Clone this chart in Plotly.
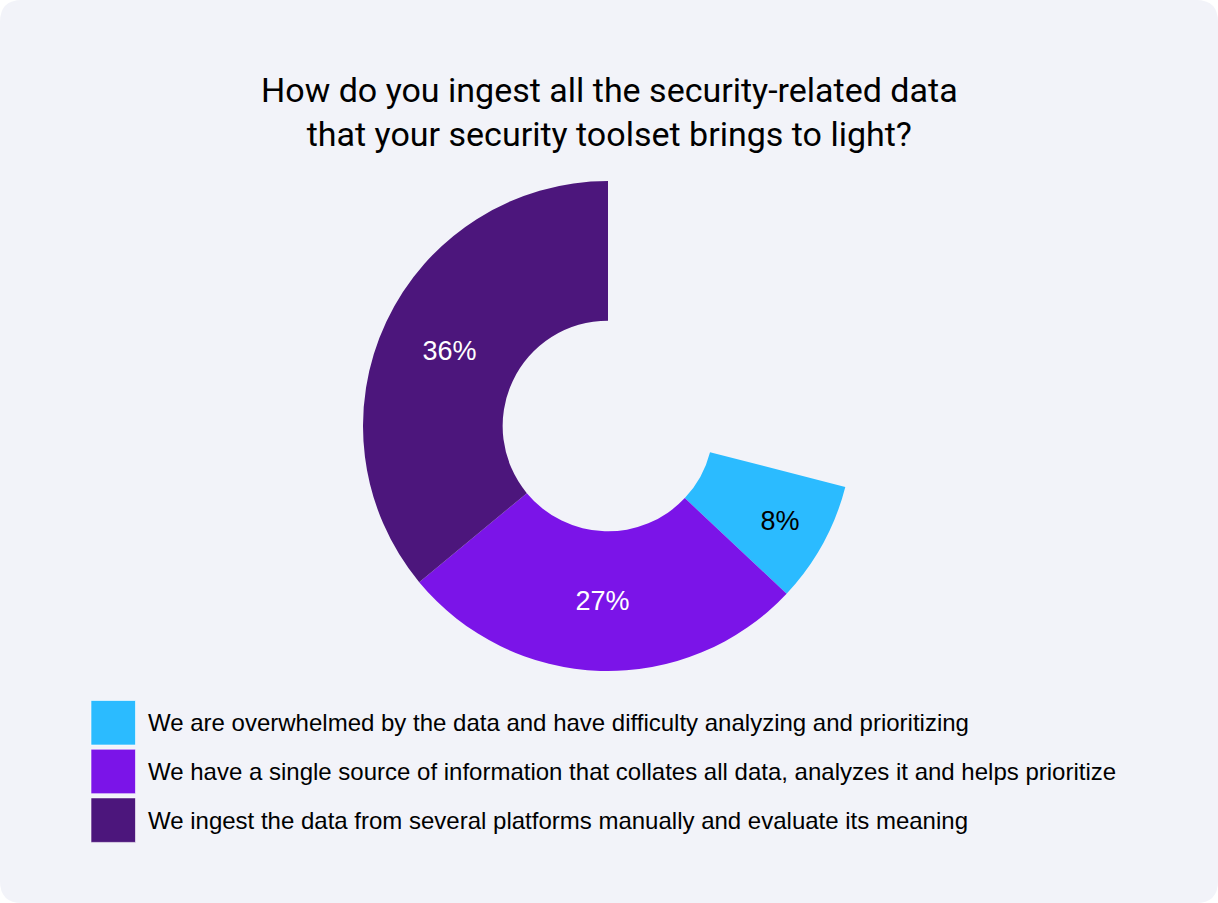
import plotly.graph_objects as go

W, H = 1218, 903

title_lines = ["How do you ingest all the security-related data",
               "that your security toolset brings to light?"]
categories = [
    "We are overwhelmed by the data and have difficulty analyzing and prioritizing",
    "We have a single source of information that collates all data, analyzes it and helps prioritize",
    "We ingest the data from several platforms manually and evaluate its meaning",
]
values = [8, 27, 36]
colors = ["#2BBBFF", "#7B14E8", "#4C167C"]
label_colors = ["#000000", "#FFFFFF", "#FFFFFF"]
BG = "#F2F3F9"

remainder = 100 - sum(values)

def px(x):
    return x / W

def py(y):
    return 1 - y / H

fig = go.Figure()

fig.add_trace(go.Pie(
    values=[remainder] + values,
    labels=["_rest"] + categories,
    text=[""] + [f"{v}%" for v in values],
    textinfo="text",
    textposition="inside",
    insidetextorientation="horizontal",
    hoverinfo="skip",
    sort=False,
    direction="clockwise",
    rotation=0,
    hole=0.43,
    marker=dict(colors=["rgba(0,0,0,0)"] + colors, line=dict(width=0)),
    textfont=dict(family="Liberation Sans", size=27, color=["rgba(0,0,0,0)"] + label_colors),
    domain=dict(x=[px(608 - 245), px(608 + 245)], y=[py(426 + 245), py(426 - 245)]),
    showlegend=False,
))

r = 22
card = (f"M {px(r)},{py(0)} L {px(W - r)},{py(0)} Q {px(W)},{py(0)} {px(W)},{py(r)} "
        f"L {px(W)},{py(H - r)} Q {px(W)},{py(H)} {px(W - r)},{py(H)} "
        f"L {px(r)},{py(H)} Q {px(0)},{py(H)} {px(0)},{py(H - r)} "
        f"L {px(0)},{py(r)} Q {px(0)},{py(0)} {px(r)},{py(0)} Z")
shapes = [dict(type="path", path=card, xref="paper", yref="paper",
               fillcolor=BG, line=dict(width=0), layer="below")]

annotations = [dict(
    text="<br>".join(title_lines), x=0.5, y=py(112), xref="paper", yref="paper",
    xanchor="center", yanchor="middle", showarrow=False, align="center",
    font=dict(family="Roboto", size=34, color="#000000"),
)]

top0, step, size = 700.5, 48.7, 44.5
for i, (cat, col) in enumerate(zip(categories, colors)):
    y0 = top0 + i * step
    shapes.append(dict(type="rect", xref="paper", yref="paper",
                       x0=px(91), x1=px(91 + size), y0=py(y0), y1=py(y0 + size),
                       fillcolor=col, line=dict(width=1, color="rgba(255,255,255,0.6)")))
    annotations.append(dict(
        text=cat, x=px(146), y=py(y0 + size / 2), xref="paper", yref="paper",
        xanchor="left", yanchor="middle", showarrow=False,
        font=dict(family="Liberation Sans", size=24, color="#000000"),
    ))

fig.update_layout(
    width=W, height=H,
    margin=dict(l=0, r=0, t=0, b=0),
    paper_bgcolor="#FFFFFF",
    plot_bgcolor="#FFFFFF",
    shapes=shapes,
    annotations=annotations,
    showlegend=False,
)

fig.write_html("out.html", config={"displayModeBar": False})
